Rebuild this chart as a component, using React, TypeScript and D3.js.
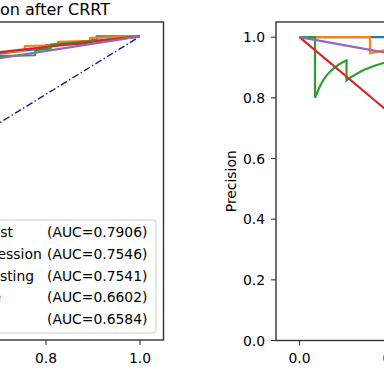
import React from 'react';
import * as d3 from 'd3';

const MODELS = ['Random Forest', 'Logistic Regression', 'Gradient Boosting', 'Decision Tree', 'SVM'];
const AUCS = ['0.7906', '0.7546', '0.7541', '0.6602', '0.6584'];
const COLORS = ['#1f77b4', '#ff7f0e', '#2ca02c', '#d62728', '#9467bd'];

// ROC curves (fpr, tpr)
const rfFpr = [0, 0.05, 0.2, 0.4, 0.55, 0.7, 0.8, 0.8, 0.894, 0.894, 0.908, 0.908, 1.0];
const rfTpr = [0, 0.4, 0.68, 0.82, 0.9, 0.94, 0.96, 0.97, 0.975, 0.988, 0.99, 1.0, 1.0];
const lrFpr = [0, 0.05, 0.2, 0.4, 0.55, 0.7, 0.755, 0.755, 0.826, 0.826, 0.894, 0.894, 1.0];
const lrTpr = [0, 0.35, 0.65, 0.8, 0.88, 0.945, 0.95, 0.967, 0.97, 0.981, 0.985, 0.995, 1.0];
const gbFpr = [0, 0.05, 0.2, 0.4, 0.55, 0.7, 0.777, 0.777, 0.81, 0.81, 0.9, 1.0];
const gbTpr = [0, 0.33, 0.63, 0.79, 0.87, 0.932, 0.935, 0.953, 0.958, 0.972, 0.985, 1.0];
const dtFpr = [0, 0.609, 1.0];
const dtTpr = [0, 0.929, 1.0];
const svFpr = [0, 0.577, 1.0];
const svTpr = [0, 0.894, 1.0];

// Precision-recall curves (recall, precision)
const rfRec = [0, 0.22];
const rfPre = [1, 1];
const lrRec = [0, 0.15, 0.15, 0.158, 0.167, 0.175, 0.183, 0.192];
const lrPre = [1, 1, 0.947, 0.95, 0.952, 0.955, 0.957, 0.958];
const gbRec = [0, 0.033, 0.033, 0.042, 0.05, 0.058, 0.067, 0.075, 0.083, 0.092, 0.1, 0.1, 0.108, 0.117, 0.125, 0.133, 0.142, 0.15, 0.158, 0.167, 0.175, 0.183, 0.192];
const gbPre = [1, 1, 0.8, 0.833, 0.857, 0.875, 0.889, 0.9, 0.909, 0.917, 0.923, 0.857, 0.867, 0.875, 0.882, 0.889, 0.895, 0.9, 0.905, 0.909, 0.913, 0.917, 0.92];
const dtRec = [0, 0.5];
const dtPre = [1, 0.35];
const svRec = [0, 1.0];
const svPre = [1, 0.72];

const X_TICKS = [0, 0.2, 0.4, 0.6, 0.8, 1.0];
const Y_TICKS = [0, 0.2, 0.4, 0.6, 0.8, 1.0];

const FONT = 'DejaVu Sans, sans-serif';

export default function App() {
  const W = 384, H = 384;
  const top = 22;
  // left panel
  const lx = d3.scaleLinear().domain([-0.05, 1.05]).range([-353.5, 163.5]);
  const ly = d3.scaleLinear().domain([-0.05, 1.05]).range([340, top]);
  // right panel
  const rx = d3.scaleLinear().domain([-0.05, 1.05]).range([276, 793]);
  const ry = d3.scaleLinear().domain([0, 1.05]).range([340.5, top]);

  const rocSets = [
    [rfFpr, rfTpr], [lrFpr, lrTpr], [gbFpr, gbTpr], [dtFpr, dtTpr], [svFpr, svTpr],
  ];
  const prSets = [
    [rfRec, rfPre], [lrRec, lrPre], [gbRec, gbPre], [dtRec, dtPre], [svRec, svPre],
  ];

  const rocLine = d3.line<number[]>().x(d => lx(d[0])).y(d => ly(d[1]));
  const prLine = d3.line<number[]>().x(d => rx(d[0])).y(d => ry(d[1]));
  const zip = (a: number[], b: number[]) => a.map((v, i) => [v, b[i]]);

  const legRight = 156, legTop = 220, legBottom = 333;
  const rowH = 21.9;
  const nameX = -91.5;
  const aucX = 47;

  return (
    <svg width={W} height={H} style={{ position: 'absolute', left: 0, top: 0, background: '#fff' }} fontFamily={FONT}>
      <rect x={0} y={0} width={W} height={H} fill="#fff" />
      {/* title */}
      <text x={110} y={15} fontSize={16} textAnchor="end" fill="#000">ROC Curve for Mortality Prediction after CRRT</text>

      {/* left panel */}
      <defs>
        <clipPath id="lclip"><rect x={lx(-0.05)} y={top} width={lx(1.05) - lx(-0.05)} height={340 - top} /></clipPath>
        <clipPath id="rclip"><rect x={rx(-0.05)} y={top} width={rx(1.05) - rx(-0.05)} height={340.5 - top} /></clipPath>
      </defs>
      <g clipPath="url(#lclip)">
        <path d={rocLine([[0, 0], [1, 1]]) || ''} stroke="#1a1a8c" strokeWidth={1.4} strokeDasharray="7,2.5,1.5,2.5" fill="none" />
        {rocSets.map((s, i) => (
          <path key={i} d={rocLine(zip(s[0], s[1])) || ''} stroke={COLORS[i]} strokeWidth={2.2} fill="none" strokeLinejoin="round" />
        ))}
      </g>
      {X_TICKS.map(t => (
        <g key={'lx' + t}>
          <line x1={lx(t)} x2={lx(t)} y1={340} y2={345} stroke="#333" strokeWidth={1.1} />
          <text x={lx(t)} y={362.5} fontSize={13.9} textAnchor="middle" fill="#000">{t.toFixed(1)}</text>
        </g>
      ))}
      <rect x={lx(-0.05)} y={top} width={lx(1.05) - lx(-0.05)} height={340 - top} fill="none" stroke="#333" strokeWidth={1.4} />

      {/* legend */}
      <rect x={-140} y={legTop} width={legRight + 140} height={legBottom - legTop} rx={3} fill="#fff" fillOpacity={0.8} stroke="#cccccc" strokeWidth={1} />
      {MODELS.map((m, i) => {
        const cy = legTop + 11.7 + i * rowH;
        return (
          <g key={m}>
            <line x1={nameX - 36} x2={nameX - 8} y1={cy} y2={cy} stroke={COLORS[i]} strokeWidth={2.2} />
            <text x={nameX} y={cy + 5} fontSize={13.9} fill="#000">{m}</text>
            <text x={aucX} y={cy + 5} fontSize={13.9} fill="#000">(AUC={AUCS[i]})</text>
          </g>
        );
      })}

      {/* right panel */}
      <g clipPath="url(#rclip)">
        {prSets.map((s, i) => (
          <path key={i} d={prLine(zip(s[0], s[1])) || ''} stroke={COLORS[i]} strokeWidth={2.2} fill="none" strokeLinejoin="miter" />
        ))}
      </g>
      {Y_TICKS.map(t => (
        <g key={'ry' + t}>
          <line x1={271} x2={276} y1={ry(t)} y2={ry(t)} stroke="#333" strokeWidth={1.1} />
          <text x={265} y={ry(t) + 5} fontSize={13.9} textAnchor="end" fill="#000">{t.toFixed(1)}</text>
        </g>
      ))}
      {X_TICKS.map(t => (
        <g key={'rx' + t}>
          <line x1={rx(t)} x2={rx(t)} y1={340.5} y2={345.5} stroke="#333" strokeWidth={1.1} />
          <text x={rx(t)} y={362.5} fontSize={13.9} textAnchor="middle" fill="#000">{t.toFixed(1)}</text>
        </g>
      ))}
      <rect x={rx(-0.05)} y={top} width={rx(1.05) - rx(-0.05)} height={340.5 - top} fill="none" stroke="#333" strokeWidth={1.4} />
      <text transform={`translate(236,${(top + 340.5) / 2}) rotate(-90)`} fontSize={13.9} textAnchor="middle" fill="#000">Precision</text>
    </svg>
  );
}
